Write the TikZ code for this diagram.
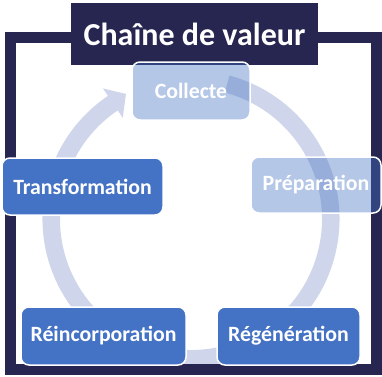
\documentclass[tikz,border=0pt]{standalone}
\usepackage{fontspec}
\setmainfont{Carlito}
\definecolor{navy}{HTML}{262651}
\definecolor{boxblue}{HTML}{4472C4}
\definecolor{ringc}{HTML}{CFD5EA}
\tikzset{
  stagebox/.style={draw=white, line width=1.5pt, fill=boxblue, rounded corners=8pt,
    text=white, font=\bfseries\fontsize{21.8}{24}\selectfont, inner sep=0pt},
  fadedbox/.style={stagebox, fill opacity=0.4, text opacity=1},
}
\begin{document}
\begin{tikzpicture}[x=1pt,y=1pt]
\useasboundingbox (0,0) rectangle (382,376);
% ring arrow
\begin{scope}[shift={(191,157)}]
\fill[ringc] (75:131) -- (75:148.5) arc[start angle=75, end angle=-236, radius=148.5]
  -- (-236:157.5) -- (-242.5:141) -- (-236:122) -- (-236:131)
  arc[start angle=-236, end angle=75, radius=131] -- cycle;
\end{scope}
% frame
\draw[navy, line width=11pt] (10.5,338.5) rectangle (376.5,7);
\node[fill=navy, minimum width=247pt, minimum height=62pt, inner sep=0pt,
  text=white, font=\bfseries\fontsize{32}{36}\selectfont] (title) at (194.5,342) {Chaîne de valeur};
% boxes
\node[fadedbox, minimum width=118pt, minimum height=58pt] (collecte) at (191,285) {Collecte};
\node[fadedbox, minimum width=130pt, minimum height=56pt] (prep) at (316,191) {Préparation};
\node[stagebox, minimum width=161pt, minimum height=57pt] (transf) at (82.5,189.5) {Transformation};
\node[stagebox, minimum width=165pt, minimum height=58pt] (reinc) at (103.5,40) {Réincorporation};
\node[stagebox, minimum width=143pt, minimum height=58pt] (regen) at (288.5,40) {Régénération};
\end{tikzpicture}
\end{document}
